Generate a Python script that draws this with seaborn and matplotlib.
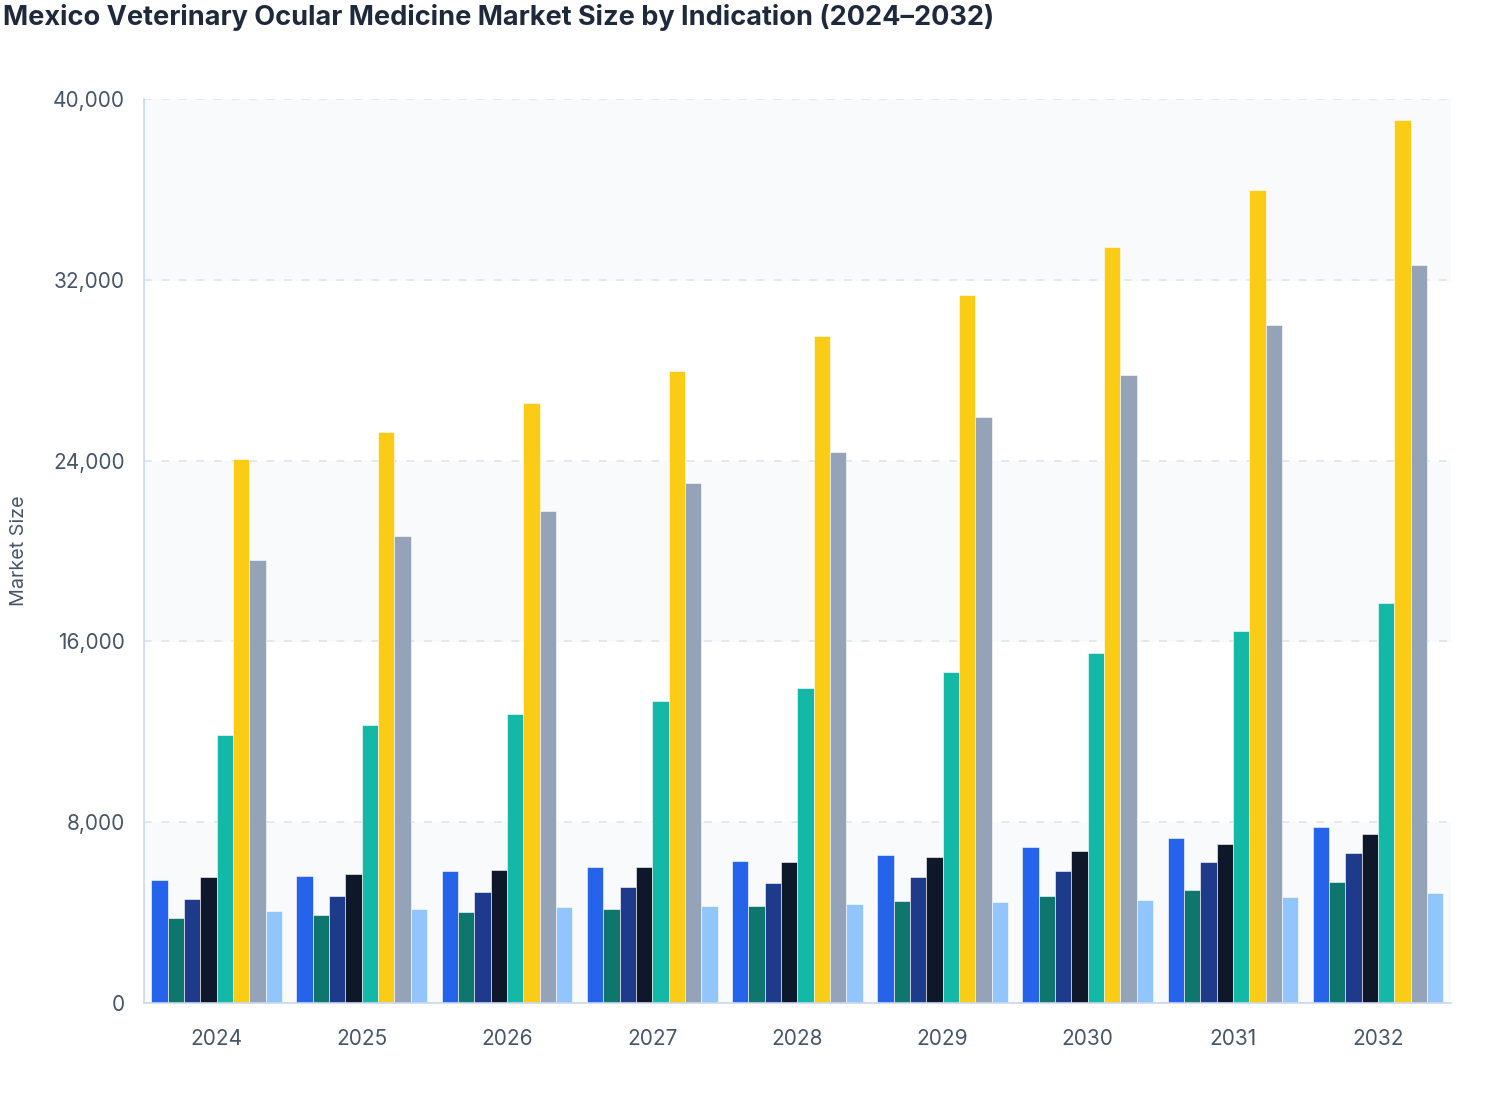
import seaborn as sns
import numpy as np
import pandas as pd
import matplotlib.pyplot as plt
from matplotlib.ticker import FuncFormatter

years = ['2024', '2025', '2026', '2027', '2028', '2029', '2030', '2031', '2032']
indications = ['Glaucoma', 'Conjunctivitis', 'Corneal Ulcers', 'Dry Eye',
               'Uveitis', 'Cataracts', 'Retinal Disorders', 'Others']

glaucoma = [5440, 5620, 5840, 6020, 6280, 6550, 6900, 7300, 7790]
conjunctivitis = [3760, 3890, 4030, 4160, 4290, 4510, 4730, 5000, 5350]
corneal_ulcers = [4600, 4740, 4910, 5130, 5310, 5570, 5840, 6240, 6640]
dry_eye = [5580, 5710, 5890, 6020, 6240, 6460, 6730, 7040, 7480]
uveitis = [11860, 12300, 12790, 13360, 13940, 14650, 15490, 16460, 17700]
cataracts = [24070, 25270, 26550, 27970, 29510, 31330, 33450, 35970, 39070]
retinal = [19600, 20660, 21770, 23010, 24380, 25930, 27790, 30000, 32650]
others = [4070, 4160, 4250, 4290, 4380, 4470, 4560, 4690, 4870]

colors = ['#2563eb', '#0f766e', '#1e3a8a', '#0f172a',
          '#14b8a6', '#facc15', '#94a3b8', '#93c5fd']

series = [glaucoma, conjunctivitis, corneal_ulcers, dry_eye, uveitis, cataracts, retinal, others]
df = pd.DataFrame({
    'Year': np.tile(years, len(indications)),
    'Indication': np.repeat(indications, len(years)),
    'Market Size': np.concatenate(series),
})

sns.set_theme(style='white')
plt.rcParams['font.family'] = ['Inter', 'DejaVu Sans']

fig = plt.figure(figsize=(15.08, 11.2), dpi=100)
ax = fig.add_axes([0.0955, 0.1045, 0.8665, 0.807])

# alternating bands behind the bars
for lo in range(0, 40000, 16000):
    ax.axhspan(lo, lo + 8000, color='#f8fafc', zorder=0)

sns.barplot(data=df, x='Year', y='Market Size', hue='Indication',
            hue_order=indications, palette=colors, width=0.9, gap=0,
            edgecolor='white', linewidth=0.4, saturation=1, ax=ax, zorder=2)

ax.set_ylim(0, 40000)
ax.set_xlim(-0.5, len(years) - 0.5)
ax.set_yticks(range(0, 40001, 8000))
ax.yaxis.set_major_formatter(FuncFormatter(lambda v, p: f'{int(v):,}'))
ax.grid(axis='y', linestyle=(0, (4, 5)), color='#e2e8f0', linewidth=1.4, zorder=1)
ax.set_axisbelow(True)

for s in ['top', 'right']:
    ax.spines[s].set_visible(False)
for s in ['left', 'bottom']:
    ax.spines[s].set_color('#c9d7f2')
    ax.spines[s].set_linewidth(1.2)

ax.tick_params(axis='both', colors='#c9d7f2', length=8, width=1.2,
               labelcolor='#475569', labelsize=15)
ax.tick_params(axis='x', pad=11)
ax.tick_params(axis='y', pad=6)
ax.set_xlabel('')
ax.set_ylabel('Market Size', fontsize=14.2, color='#475569', labelpad=18)
ax.get_legend().remove()

fig.text(0.002, 0.996, 'Mexico Veterinary Ocular Medicine Market Size by Indication (2024\u20132032)',
         fontsize=19.5, fontweight='bold', color='#1e293b', ha='left', va='top')

fig.savefig('out.png', dpi=100)
